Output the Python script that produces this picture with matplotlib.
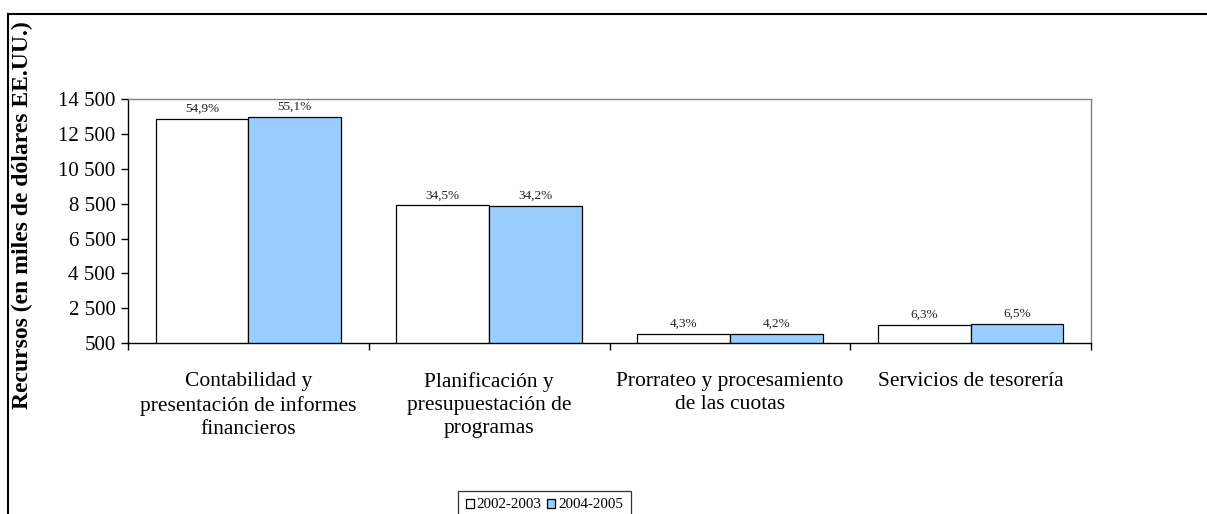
import matplotlib
matplotlib.use("Agg")
import matplotlib.pyplot as plt
from matplotlib.ticker import FuncFormatter, FixedLocator
from matplotlib.lines import Line2D
import numpy as np

plt.rcParams['font.family'] = ['Liberation Serif', 'DejaVu Serif']

categories = ["Contabilidad y\npresentación de informes\nfinancieros",
              "Planificación y\npresupuestación de\nprogramas",
              "Prorrateo y procesamiento\nde las cuotas",
              "Servicios de tesorería"]
series_names = ["2002-2003", "2004-2005"]
values_2002_2003 = [13380, 8400, 1040, 1530]
values_2004_2005 = [13500, 8350, 1030, 1580]
labels_2002_2003 = ["54,9%", "34,5%", "4,3%", "6,3%"]
labels_2004_2005 = ["55,1%", "34,2%", "4,2%", "6,5%"]
yticks = [500, 2500, 4500, 6500, 8500, 10500, 12500, 14500]

fig = plt.figure(figsize=(12.07, 5.14), dpi=100)
ax = fig.add_axes([128/1207, 1-343/514, (1091-128)/1207, (343-99.3)/514])

x = np.arange(len(categories))
w = 0.385
b1 = ax.bar(x - w/2, values_2002_2003, w, color="white", edgecolor="black", linewidth=0.9, label=series_names[0])
b2 = ax.bar(x + w/2, values_2004_2005, w, color="#99CCFF", edgecolor="black", linewidth=0.9, label=series_names[1])

for bars, labs in ((b1, labels_2002_2003), (b2, labels_2004_2005)):
    for r, t in zip(bars, labs):
        ax.annotate(t, (r.get_x() + r.get_width()/2, r.get_height()), xytext=(0, 3),
                    textcoords="offset points", ha="center", va="bottom", fontsize=9.5, color="#222222")

ax.set_xlim(-0.5, len(categories) - 0.5)
ax.set_ylim(500, 14500)
ax.yaxis.set_major_locator(FixedLocator(yticks))
ax.yaxis.set_major_formatter(FuncFormatter(lambda v, p: f"{int(v):,}".replace(",", " ")))
ax.set_xticks(x)
ax.set_xticklabels(categories, fontsize=15.5, linespacing=1.3)
ax.set_xticks(np.arange(len(categories) + 1) - 0.5, minor=True)
ax.tick_params(axis="x", which="major", length=0, pad=21)
ax.tick_params(axis="x", which="minor", length=5, width=1, direction="out")
ax.tick_params(axis="y", length=5, width=1, labelsize=15, pad=4)

for s in ("top", "right"):
    ax.spines[s].set_color("#808080")
    ax.spines[s].set_linewidth(1)
for s in ("left", "bottom"):
    ax.spines[s].set_color("black")
    ax.spines[s].set_linewidth(1)

fig.text(22/1207, 1-215/514, "Recursos (en miles de dólares EE.UU.)", rotation=90,
         ha="center", va="center", fontsize=17, fontweight="bold")

leg = fig.legend(loc="upper left", bbox_to_anchor=(458/1207, 1-491/514), ncol=2, fontsize=10.8,
                 frameon=True, fancybox=False, edgecolor="black", handlelength=0.55, handleheight=0.55,
                 handletextpad=0.2, columnspacing=0.35, borderpad=0.5, borderaxespad=0)
leg.get_frame().set_linewidth(0.9)

fig.add_artist(Line2D([8/1207, 8/1207], [0, 1-14/514], transform=fig.transFigure, color="black", linewidth=1.5))
fig.add_artist(Line2D([8/1207, 1], [1-14/514, 1-14/514], transform=fig.transFigure, color="black", linewidth=1.5))

fig.savefig("out.png", dpi=100)
